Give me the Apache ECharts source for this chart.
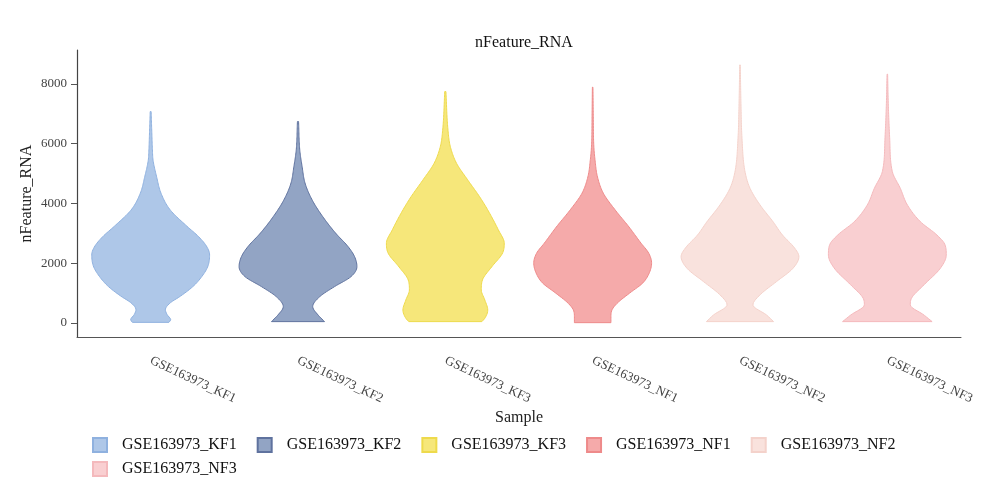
<!DOCTYPE html>
<html>
<head>
<meta charset="utf-8">
<script src="https://cdn.jsdelivr.net/npm/echarts@6/dist/echarts.min.js"></script>
<style>
  html, body { margin: 0; padding: 0; background: #fff; }
  #main { width: 1001px; height: 486px; }
</style>
</head>
<body>
<div id="main"></div>
<script>
// sample names and colours
var samples = ["GSE163973_KF1", "GSE163973_KF2", "GSE163973_KF3",
               "GSE163973_NF1", "GSE163973_NF2", "GSE163973_NF3"];
var fillColors = ["#aec7e8", "#92a4c4", "#f6e77a", "#f5aaaa", "#f9e2dd", "#f9cfd1"];
var lineColors = ["#8fb1df", "#5f729e", "#eeda4c", "#ee8a8a", "#f4d2cb", "#f4b9bc"];
var yTicks = [0, 2000, 4000, 6000, 8000];

// violin outlines: nFeature value -> relative half width
var kf1Values = [20, 110, 277, 445, 668, 889, 1224, 1558, 1892, 2283, 2561, 2895, 3229, 3787, 4345, 4901, 5458, 5791, 6349, 7073];
var kf1Widths = [0.31, 0.34, 0.28, 0.25, 0.33, 0.50, 0.72, 0.87, 0.97, 1.0, 0.95, 0.81, 0.62, 0.33, 0.175, 0.10, 0.04, 0.03, 0.02, 0.008];

var kf2Values = [45, 268, 547, 882, 1216, 1551, 1885, 2220, 2554, 3002, 3558, 4117, 4676, 5233, 5791, 6739];
var kf2Widths = [0.45, 0.34, 0.25, 0.37, 0.62, 0.9, 1.0, 0.96, 0.85, 0.64, 0.42, 0.24, 0.12, 0.07, 0.03, 0.01];

var kf3Values = [45, 156, 435, 770, 1105, 1439, 1885, 2333, 2668, 3114, 3782, 4229, 4787, 5345, 5902, 6460, 7743];
var kf3Widths = [0.62, 0.67, 0.72, 0.67, 0.61, 0.63, 0.79, 0.97, 1.0, 0.9, 0.72, 0.58, 0.38, 0.19, 0.085, 0.045, 0.01];

var nf1Values = [10, 222, 445, 668, 1003, 1337, 1671, 2005, 2340, 2672, 3229, 3787, 4345, 4901, 5458, 5902, 7019, 7888];
var nf1Widths = [0.31, 0.31, 0.33, 0.42, 0.63, 0.85, 0.96, 1.0, 0.95, 0.82, 0.61, 0.38, 0.18, 0.08, 0.04, 0.02, 0.01, 0.005];

var nf2Values = [45, 268, 605, 940, 1385, 1831, 2221, 2500, 2946, 3391, 3950, 4508, 5065, 6182, 7297, 8636];
var nf2Widths = [0.57, 0.45, 0.22, 0.34, 0.62, 0.9, 1.0, 0.93, 0.72, 0.56, 0.34, 0.17, 0.085, 0.034, 0.017, 0.005];

var nf3Values = [45, 268, 605, 827, 1272, 1831, 2276, 2611, 2946, 3391, 3950, 4508, 5065, 6182, 7297, 8324];
var nf3Widths = [0.76, 0.62, 0.39, 0.41, 0.62, 0.9, 1.0, 0.98, 0.84, 0.56, 0.34, 0.22, 0.085, 0.04, 0.017, 0.005];

var profiles = [
  [kf1Values, kf1Widths], [kf2Values, kf2Widths], [kf3Values, kf3Widths],
  [nf1Values, nf1Widths], [nf2Values, nf2Widths], [nf3Values, nf3Widths]
];

var font = "Liberation Serif";

// monotone cubic through the outline points, so the edge has no overshoot
function monotone(xs, ys) {
  var n = xs.length, d = [], m = [];
  for (var i = 0; i < n - 1; i++) d.push((ys[i + 1] - ys[i]) / (xs[i + 1] - xs[i]));
  m[0] = d[0];
  m[n - 1] = d[n - 2];
  for (i = 1; i < n - 1; i++) {
    m[i] = d[i - 1] * d[i] <= 0 ? 0 : (d[i - 1] + d[i]) / 2;
  }
  for (i = 0; i < n - 1; i++) {
    if (d[i] === 0) { m[i] = 0; m[i + 1] = 0; continue; }
    var a = m[i] / d[i], b = m[i + 1] / d[i], s = a * a + b * b;
    if (s > 9) { var t = 3 / Math.sqrt(s); m[i] = t * a * d[i]; m[i + 1] = t * b * d[i]; }
  }
  return function (x) {
    var k = 0;
    while (k < n - 2 && x > xs[k + 1]) k++;
    var h = xs[k + 1] - xs[k], u = (x - xs[k]) / h;
    var h00 = 2 * u * u * u - 3 * u * u + 1, h10 = u * u * u - 2 * u * u + u;
    var h01 = -2 * u * u * u + 3 * u * u, h11 = u * u * u - u * u;
    return h00 * ys[k] + h10 * h * m[k] + h01 * ys[k + 1] + h11 * h * m[k + 1];
  };
}

document.addEventListener("DOMContentLoaded", function () {
  var chart = echarts.init(document.getElementById("main"));

  // draws one violin through the axes
  function violin(idx) {
    var vals = profiles[idx][0];
    var ws = profiles[idx][1];
    var f = monotone(vals, ws);
    return function (params, api) {
      var half = api.size([1, 0])[0] * 0.4;
      var right = [];
      var left = [];
      var lo = vals[0], hi = vals[vals.length - 1], steps = 160;
      for (var i = 0; i <= steps; i++) {
        var v = lo + (hi - lo) * i / steps;
        var w = Math.max(f(v), 0.004);
        var p = api.coord([idx, v]);
        right.push([p[0] + w * half, p[1]]);
        left.unshift([p[0] - w * half, p[1]]);
      }
      return {
        type: "polygon",
        shape: { points: right.concat(left) },
        style: { fill: fillColors[idx], stroke: lineColors[idx], lineWidth: 1, lineJoin: "round" },
      };
    };
  }

  var series = samples.map(function (name, idx) {
    return {
      name: name,
      type: "custom",
      renderItem: violin(idx),
      itemStyle: { color: fillColors[idx], borderColor: lineColors[idx], borderWidth: 0.8 },
      encode: { x: 0, y: 1 },
      data: [[idx, 0]],
    };
  });

  // legend laid out as two rows: five items, then the last one
  var legendBase = {
    left: 92,
    padding: 0,
    itemWidth: 14,
    itemHeight: 14,
    itemGap: 20,
    textStyle: { fontFamily: font, fontSize: 16, color: "#111", padding: [0, 0, 0, 10] },
  };
  var legendRows = [samples.slice(0, 5), samples.slice(5)];
  var legendTops = [437, 461];
  var legends = legendRows.map(function (row, r) {
    return Object.assign({}, legendBase, {
      top: legendTops[r],
      data: row.map(function (s) { return { name: s, icon: "rect" }; }),
    });
  });

  var option = {
    animation: false,
    title: {
      text: "nFeature_RNA",
      left: 519,
      textAlign: "center",
      top: 30,
      textStyle: { fontFamily: font, fontSize: 16, fontWeight: "normal", color: "#111" },
    },
    legend: legends,
    grid: { left: 77, right: 40, top: 50, bottom: 149 },
    xAxis: {
      type: "category",
      data: samples,
      name: "Sample",
      nameLocation: "middle",
      nameGap: 73,
      nameMoveOverlap: false,
      nameTextStyle: { fontFamily: font, fontSize: 16, color: "#222" },
      axisLine: { onZero: false, lineStyle: { color: "#555", width: 1 } },
      axisTick: { alignWithLabel: true, length: 6, lineStyle: { color: "#555" } },
      axisLabel: { rotate: -25, interval: 0, margin: 23, fontFamily: font, fontSize: 13, color: "#444" },
      splitLine: { show: false },
    },
    yAxis: {
      type: "value",
      min: -470,
      max: 9135,
      name: "nFeature_RNA",
      nameLocation: "middle",
      nameGap: 42,
      nameMoveOverlap: false,
      nameTextStyle: { fontFamily: font, fontSize: 16, color: "#222" },
      axisLine: { show: true, lineStyle: { color: "#444", width: 1.2 } },
      axisTick: { show: true, length: 6, customValues: yTicks, lineStyle: { color: "#555" } },
      axisLabel: {
        customValues: yTicks,
        margin: 10,
        fontFamily: font,
        fontSize: 13,
        color: "#444",
        formatter: function (v) { return String(v); },
      },
      splitLine: { show: false },
    },
    series: series,
  };

  chart.setOption(option);
});
</script>
</body>
</html>
